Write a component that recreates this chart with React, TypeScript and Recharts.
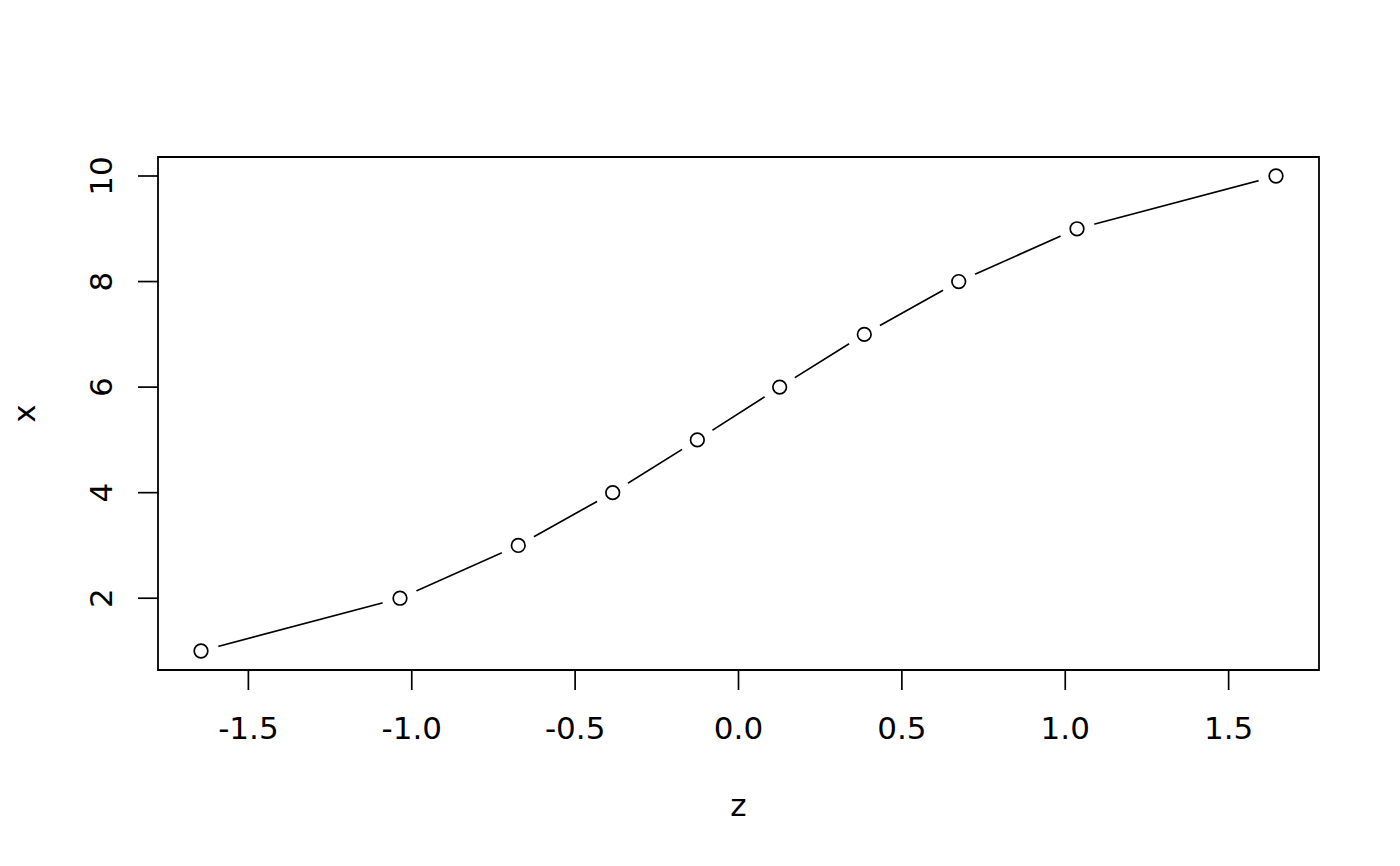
import React from 'react';
import { LineChart, Line, XAxis, YAxis, ReferenceArea } from 'recharts';

const zValues = [-1.645, -1.036, -0.674, -0.385, -0.126, 0.126, 0.385, 0.674, 1.036, 1.645];
const xValues = [1, 2, 3, 4, 5, 6, 7, 8, 9, 10];
const xTicks = [-1.5, -1.0, -0.5, 0.0, 0.5, 1.0, 1.5];
const yTicks = [2, 4, 6, 8, 10];
const xAxisTitle = 'z';
const yAxisTitle = 'x';

const data = zValues.map((z, i) => ({ z, x: xValues[i] }));

const FONT = '"DejaVu Sans", sans-serif';
const FS = 31;
const xDomain: [number, number] = [-1.7766, 1.7766];
const yDomain: [number, number] = [0.64, 10.36];

const XTick = (props: any) => {
  const { x, y, payload } = props;
  return (
    <text x={x} y={y} textAnchor="middle" fontFamily={FONT} fontSize={FS} fill="#000">
      {Number(payload.value).toFixed(1)}
    </text>
  );
};

const YTick = (props: any) => {
  const { x, y, payload } = props;
  return (
    <text
      x={x}
      y={y}
      textAnchor="middle"
      transform={`rotate(-90, ${x}, ${y})`}
      fontFamily={FONT}
      fontSize={FS}
      fill="#000"
    >
      {String(payload.value)}
    </text>
  );
};

const Dot = (props: any) => {
  const { cx, cy, index } = props;
  if (cx == null || cy == null) return null;
  return (
    <g key={`d-${index}`}>
      <circle cx={cx} cy={cy} r={18} fill="#fff" stroke="none" />
      <circle cx={cx} cy={cy} r={6.8} fill="#fff" stroke="#000" strokeWidth={1.7} />
    </g>
  );
};

export default function App() {
  return (
    <div style={{ position: 'absolute', left: 0, top: 0, width: 1400, height: 866, background: '#fff' }}>
      <LineChart
        width={1400}
        height={866}
        data={data}
        margin={{ top: 157, right: 81, left: 0, bottom: 0 }}
      >
        <XAxis
          dataKey="z"
          type="number"
          domain={xDomain}
          allowDataOverflow
          ticks={xTicks}
          interval={0}
          height={196}
          axisLine={false}
          tickLine={{ stroke: '#000', strokeWidth: 1.7 }}
          tickSize={20}
          tickMargin={49}
          tick={<XTick />}
          label={(p: any) => {
            const vb = p.viewBox || {};
            return (
              <text
                x={vb.x + vb.width / 2}
                y={816}
                textAnchor="middle"
                fontFamily={FONT}
                fontSize={FS}
                fill="#000"
              >
                {xAxisTitle}
              </text>
            );
          }}
        />
        <YAxis
          dataKey="x"
          type="number"
          domain={yDomain}
          allowDataOverflow
          ticks={yTicks}
          interval={0}
          width={158}
          axisLine={false}
          tickLine={{ stroke: '#000', strokeWidth: 1.7 }}
          tickSize={20}
          tickMargin={26}
          tick={<YTick />}
          label={(p: any) => {
            const vb = p.viewBox || {};
            const cy = vb.y + vb.height / 2;
            return (
              <text
                x={35}
                y={cy}
                textAnchor="middle"
                transform={`rotate(-90, 35, ${cy})`}
                fontFamily={FONT}
                fontSize={FS}
                fill="#000"
              >
                {yAxisTitle}
              </text>
            );
          }}
        />
        <ReferenceArea
          x1={xDomain[0]}
          x2={xDomain[1]}
          y1={yDomain[0]}
          y2={yDomain[1]}
          fill="none"
          stroke="#000"
          strokeWidth={1.8}
          ifOverflow="visible"
        />
        <Line
          dataKey="x"
          type="linear"
          stroke="#000"
          strokeWidth={1.7}
          dot={<Dot />}
          activeDot={false}
          isAnimationActive={false}
        />
      </LineChart>
    </div>
  );
}
